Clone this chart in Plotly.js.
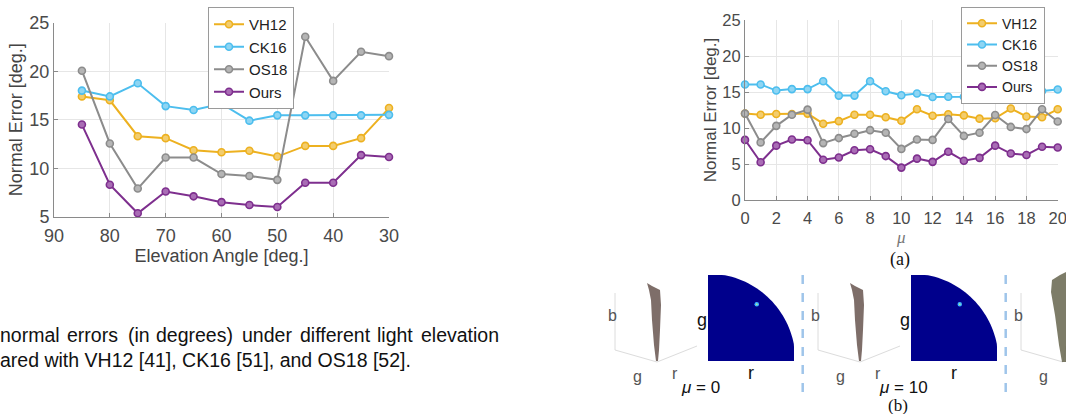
<!DOCTYPE html>
<html>
<head>
<meta charset="utf-8">
<script src="https://cdn.plot.ly/plotly-3.0.1.min.js"></script>
<style>html,body{margin:0;padding:0;background:#fff;}#chart{width:1066px;height:414px;}</style>
</head>
<body>
<div id="chart"></div>
<script>
// ---- Data: left chart (light elevation angle) ----
const elevation = [85, 80, 75, 70, 65, 60, 55, 50, 45, 40, 35, 30];
const elevVH12 = [17.4, 17.0, 13.3, 13.1, 11.85, 11.65, 11.8, 11.2, 12.3, 12.3, 13.1, 16.2];
const elevCK16 = [18.0, 17.4, 18.75, 16.4, 16.0, 16.65, 14.9, 15.45, 15.45, 15.45, 15.45, 15.5];
const elevOS18 = [20.05, 12.55, 7.9, 11.1, 11.1, 9.4, 9.2, 8.8, 23.55, 19.0, 22.0, 21.55];
const elevOurs = [14.5, 8.3, 5.35, 7.6, 7.1, 6.5, 6.2, 6.0, 8.5, 8.5, 11.35, 11.15];
const elevTicks = [90, 80, 70, 60, 50, 40, 30];

// ---- Data: right chart (mu) ----
const mu = [0,1,2,3,4,5,6,7,8,9,10,11,12,13,14,15,16,17,18,19,20];
const muVH12 = [12.0, 11.85, 11.95, 11.95, 12.0, 10.6, 10.95, 11.85, 11.85, 11.5, 11.0, 12.6, 11.7, 11.9, 11.75, 11.3, 11.35, 12.7, 11.6, 11.5, 12.6];
const muCK16 = [16.05, 16.05, 15.2, 15.4, 15.4, 16.5, 14.5, 14.5, 16.5, 15.1, 14.55, 14.8, 14.3, 14.35, 14.35, 14.6, 14.4, 15.15, 14.8, 15.15, 15.35];
const muOS18 = [12.0, 8.0, 10.3, 11.85, 12.55, 7.9, 8.6, 9.2, 9.7, 9.35, 7.1, 8.4, 8.35, 11.25, 8.9, 9.35, 11.8, 10.15, 9.85, 12.6, 10.9];
const muOurs = [8.35, 5.25, 7.55, 8.4, 8.3, 5.6, 5.9, 6.9, 7.05, 6.1, 4.5, 5.75, 5.3, 6.7, 5.45, 5.85, 7.55, 6.45, 6.25, 7.4, 7.3];
const muTicks = [0, 2, 4, 6, 8, 10, 12, 14, 16, 18, 20];

const seriesNames = ['VH12', 'CK16', 'OS18', 'Ours'];
const seriesColors = ['#EDB120', '#4DBEEE', '#8C8C8C', '#7E2F8E'];
const seriesFills = ['#F3CD6E', '#8ED5F3', '#B5B5B5', '#A96DB5'];

// caption words (first line justified)
const captionLine1 = ['normal', 'errors', '(in', 'degrees)', 'under', 'different', 'light', 'elevation'];
const captionLine2 = 'ared with VH12 [41], CK16 [51], and OS18 [52].';

const W = 1066, H = 414;
const PX = x => x / W;
const PY = y => 1 - y / H;
const SANS = 'Liberation Sans, Arial, sans-serif';
const SERIF = 'Liberation Serif, Times New Roman, serif';

function mk(i, x, y, xa, ya, leg) {
  return {
    type: 'scatter', mode: 'lines+markers', name: seriesNames[i],
    x: x, y: y, xaxis: xa, yaxis: ya, legend: leg, showlegend: true,
    cliponaxis: false,
    line: {color: seriesColors[i], width: 2},
    marker: {symbol: 'circle', size: 7, color: seriesFills[i], line: {color: seriesColors[i], width: 1.6}}
  };
}
const leftY = [elevVH12, elevCK16, elevOS18, elevOurs];
const rightY = [muVH12, muCK16, muOS18, muOurs];
const traces = [];
for (let i = 0; i < 4; i++) traces.push(mk(i, elevation, leftY[i], 'x', 'y', 'legend'));
for (let i = 0; i < 4; i++) traces.push(mk(i, mu, rightY[i], 'x2', 'y2', 'legend2'));

const tickL = {family: SANS, size: 18, color: '#4a4a4a'};
const tickR = {family: SANS, size: 16.5, color: '#4a4a4a'};
const axCommon = {
  showline: true, linecolor: '#8a8a8a', linewidth: 1, mirror: false,
  showgrid: true, gridcolor: '#e6e6e6', gridwidth: 1, zeroline: false,
  ticks: 'inside', ticklen: 4, tickcolor: '#8a8a8a',
  ticklabeloverflow: 'allow', fixedrange: true
};

// ---- decoration for panel (b) ----
const shapes = [];
const annotations = [];
function line(x0, y0, x1, y1, color, width, dash) {
  shapes.push({type: 'line', xref: 'paper', yref: 'paper', x0: PX(x0), y0: PY(y0), x1: PX(Math.min(x1, W)), y1: PY(y1),
    line: {color: color, width: width, dash: dash || 'solid'}});
}
function poly(pts, fill, op) {
  let d = pts.map((p, k) => (k ? 'L' : 'M') + PX(p[0]).toFixed(5) + ',' + PY(p[1]).toFixed(5)).join(' ') + ' Z';
  shapes.push({type: 'path', xref: 'paper', yref: 'paper', path: d, fillcolor: fill, opacity: op || 1, line: {width: 0}});
}
function label(x, y, t, size, color, fam) {
  annotations.push({xref: 'paper', yref: 'paper', x: PX(x), y: PY(y), text: t, showarrow: false,
    xanchor: 'center', yanchor: 'middle', font: {family: fam || SANS, size: size, color: color}});
}
const groupOffsets = [0, 203, 406];
groupOffsets.forEach((o, gi) => {
  // 3D axes of rgb scatter
  line(615 + o, 293, 615 + o, 350, '#dcdcdc', 1);
  line(615 + o, 350, 657 + o, 362, '#dcdcdc', 1);
  if (657 + o < W) line(657 + o, 362, 697 + o, 346, '#dcdcdc', 1);
  label(612 + o, 315, 'b', 16, '#555');
  label(637 + o, 376, 'g', 16, '#555');
  if (675 + o < W) label(675 + o, 373, 'r', 16, '#555');
  if (gi < 2) {
    // point cloud
    poly([[647+o,283],[652+o,286],[660+o,290],[661+o,305],[660+o,330],[659+o,350],[658+o,361],[656+o,361],[654+o,345],[652+o,320],[651+o,300],[649+o,290]], '#5e4a44', 0.8);
    // quarter disk (r-g chromaticity map)
    const cx = 708 + o, cy = 361, r = 87.5, bw = 86;
    const pts = [[cx, cy], [cx, cy - bw]];
    for (let k = 0; k <= 40; k++) {
      const a = Math.PI / 2 - k * (Math.PI / 2) / 40;
      let px = cx + r * Math.cos(a), py = cy - r * Math.sin(a);
      px = Math.min(px, cx + bw); py = Math.max(py, cy - bw);
      pts.push([px, py]);
    }
    pts.push([cx + bw, cy]);
    poly(pts, '#00008C', 1);
    shapes.push({type: 'circle', xref: 'paper', yref: 'paper', x0: PX(cx + 46.5), x1: PX(cx + 51), y0: PY(cy - 54.5), y1: PY(cy - 59), fillcolor: '#3fb7ff', line: {width: 0}});
    shapes.push({type: 'circle', xref: 'paper', yref: 'paper', x0: PX(cx + 48), x1: PX(cx + 49.6), y0: PY(cy - 56), y1: PY(cy - 57.6), fillcolor: '#d9f56a', line: {width: 0}});
    label(702 + o, 320, 'g', 18, '#111');
    label(751 + o, 373, 'r', 18, '#111');
    label(700 + o, 387, '<i>μ</i> = ' + (gi === 0 ? '0' : '10'), 17, '#111');
    line(802.7 + o, 275, 802.7 + o, 392, '#9fc5ea', 2.5, 'dash');
  } else {
    poly([[1052,280],[1060,275],[1066,272],[1066,362],[1062,362],[1059,345],[1055,315],[1051,292]], '#66654e', 0.85);
  }
});
label(900, 259, '(a)', 18, '#111', SERIF);
label(898, 405.5, '(b)', 17, '#111', SERIF);

// caption text
const wordX = [0, 66.7, 128, 155.7, 242, 300, 377, 421];
captionLine1.forEach((w, k) => {
  annotations.push({xref: 'paper', yref: 'paper', x: PX(wordX[k]), y: PY(335), text: w, showarrow: false,
    xanchor: 'left', yanchor: 'middle', xshift: -2, font: {family: SANS, size: 19.5, color: '#111'}});
});
annotations.push({xref: 'paper', yref: 'paper', x: 0, y: PY(360), text: captionLine2, showarrow: false,
  xanchor: 'left', yanchor: 'middle', xshift: -2, font: {family: SANS, size: 19.5, color: '#111'}});

const legendCommon = {
  bgcolor: '#ffffff', bordercolor: '#9a9a9a', borderwidth: 1,
  itemwidth: 30, tracegroupgap: 0, xanchor: 'left', yanchor: 'top'
};

const layout = {
  width: W, height: H,
  margin: {l: 0, r: 0, t: 0, b: 0, pad: 0},
  paper_bgcolor: '#fff', plot_bgcolor: '#fff',
  showlegend: true,
  xaxis: Object.assign({}, axCommon, {
    domain: [PX(54), PX(389)], anchor: 'y', range: [90, 30], autorange: false,
    tickvals: elevTicks, ticktext: elevTicks.map(String), tickfont: tickL, ticklabelstandoff: 3,
    title: {text: 'Elevation Angle [deg.]', font: {family: SANS, size: 18, color: '#444'}, standoff: 4}
  }),
  yaxis: Object.assign({}, axCommon, {
    domain: [PY(216.7), PY(22.7)], anchor: 'x', range: [5, 25], autorange: false, dtick: 5, tick0: 5,
    tickfont: tickL,
    title: {text: 'Normal Error [deg.]', font: {family: SANS, size: 18, color: '#444'}, standoff: 2}
  }),
  xaxis2: Object.assign({}, axCommon, {
    domain: [PX(745), PX(1057.7)], anchor: 'y2', range: [0, 20], autorange: false,
    tickvals: muTicks, tickfont: tickR, ticklabelstandoff: 3,
    title: {text: '<i>μ</i>', font: {family: SERIF, size: 17, color: '#777'}, standoff: 5}
  }),
  yaxis2: Object.assign({}, axCommon, {
    domain: [PY(200), PY(20)], anchor: 'x2', range: [0, 25], autorange: false, dtick: 5, tick0: 0,
    tickfont: tickR,
    title: {text: 'Normal Error [deg.]', font: {family: SANS, size: 17, color: '#444'}, standoff: 1}
  }),
  legend: Object.assign({}, legendCommon, {x: PX(208), y: PY(7), font: {family: SANS, size: 15, color: '#222'}}),
  legend2: Object.assign({}, legendCommon, {x: PX(961), y: PY(6.7), font: {family: SANS, size: 14, color: '#222'}}),
  shapes: shapes,
  annotations: annotations
};

Plotly.newPlot('chart', traces, layout, {displayModeBar: false, staticPlot: true});
</script>
</body>
</html>
